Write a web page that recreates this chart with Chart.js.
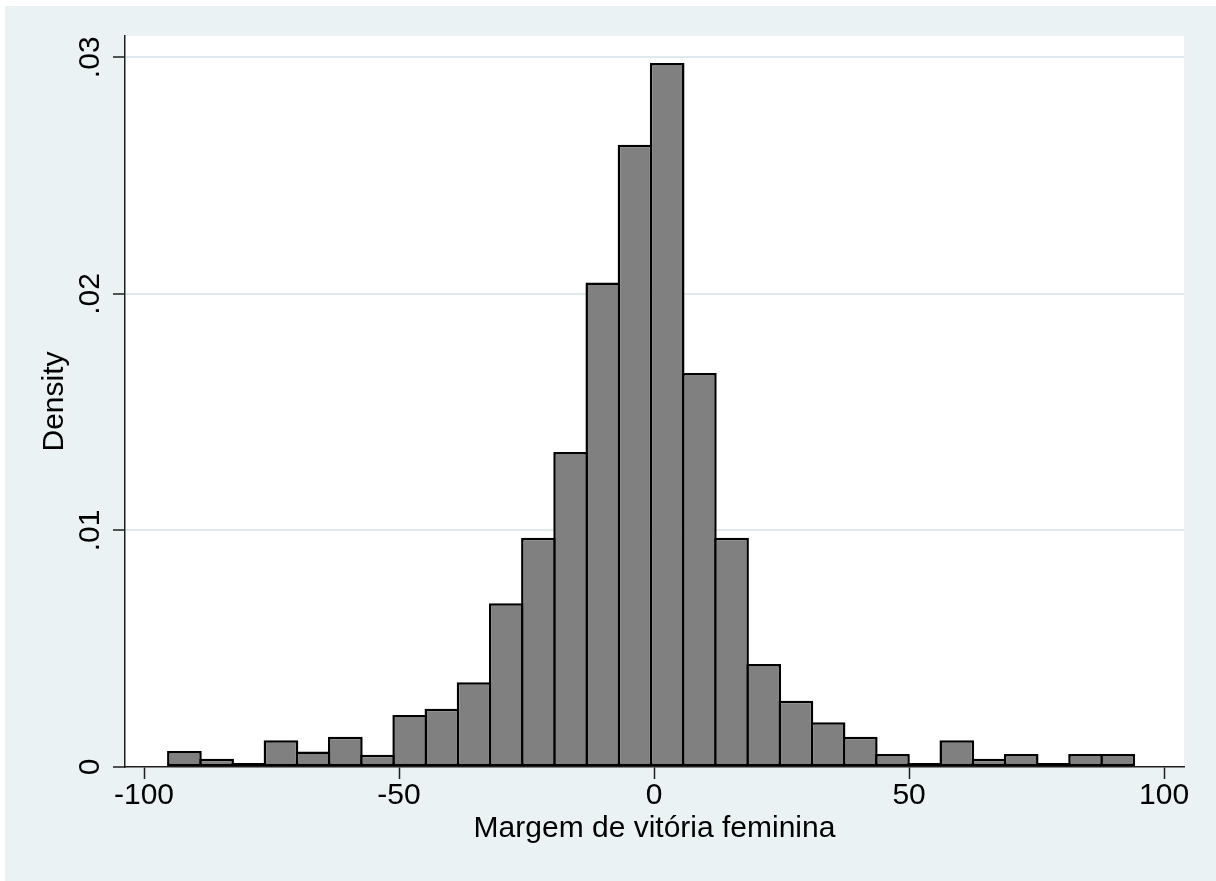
<!DOCTYPE html>
<html>
<head>
<meta charset="utf-8">
<title>Margem de vitória feminina</title>
<script src="https://cdn.jsdelivr.net/npm/chart.js@4/dist/chart.umd.min.js"></script>
<style>
  html, body { margin: 0; padding: 0; background: #ffffff; }
  #wrap { position: absolute; left: 0; top: 0; width: 1216px; height: 881px; }
</style>
</head>
<body>
<div id="wrap"><canvas id="hist" width="1216" height="881"></canvas></div>
<script>
// Histogram bins: centre of each bin (margin, percentage points)
const binCenters = [
  -92.08, -85.77, -79.46, -73.15, -66.84, -60.53, -54.22, -47.91, -41.60, -35.29,
  -28.98, -22.67, -16.36, -10.05,  -3.74,   2.57,   8.88,  15.19,  21.50,  27.81,
   34.12,  40.43,  46.74,  53.05,  59.36,  65.67,  71.98,  78.29,  84.60,  90.91
];

// Density of each bin
const densities = [
  0.00068, 0.00035, 0.00017, 0.00113, 0.00066, 0.00128, 0.00052, 0.00220, 0.00246, 0.00358,
  0.00692, 0.00969, 0.01332, 0.02048, 0.02630, 0.02976, 0.01666, 0.00969, 0.00435, 0.00280,
  0.00189, 0.00128, 0.00055, 0.00017, 0.00113, 0.00035, 0.00055, 0.00017, 0.00055, 0.00055
];

const xTickValues = [-100, -50, 0, 50, 100];
const xTickLabels = ['-100', '-50', '0', '50', '100'];
const yTickValues = [0, 0.01, 0.02, 0.03];
const yTickLabels = ['0', '.01', '.02', '.03'];
const xTitle = 'Margem de vitória feminina';
const yTitle = 'Density';

const FONT = "'Liberation Sans', Arial, Helvetica, sans-serif";
const BG = '#eaf2f3';
const GRID = '#e0eaed';
const AXIS = '#1e1e1e';

// Page and plot-region backgrounds
const backgroundPlugin = {
  id: 'backgroundPlugin',
  beforeDraw(chart) {
    const { ctx, width, height, chartArea } = chart;
    ctx.save();
    ctx.fillStyle = '#ffffff';
    ctx.fillRect(0, 0, width, height);
    ctx.fillStyle = BG;
    ctx.fillRect(5, 6, width - 5, height - 6);
    ctx.fillStyle = '#ffffff';
    ctx.fillRect(chartArea.left, chartArea.top,
                 chartArea.right - chartArea.left, chartArea.bottom - chartArea.top);
    ctx.restore();
  }
};

// Vertical-axis labels are drawn rotated, reading bottom to top
const rotatedYLabels = {
  id: 'rotatedYLabels',
  afterDraw(chart) {
    const { ctx } = chart;
    const y = chart.scales.y;
    ctx.save();
    ctx.font = '30px ' + FONT;
    ctx.fillStyle = '#000000';
    ctx.textAlign = 'center';
    ctx.textBaseline = 'alphabetic';
    yTickValues.forEach((v, i) => {
      ctx.save();
      ctx.translate(y.right - 26.5, y.getPixelForValue(v));
      ctx.rotate(-Math.PI / 2);
      ctx.fillText(yTickLabels[i], 0, 0);
      ctx.restore();
    });
    ctx.restore();
  }
};

new Chart(document.getElementById('hist'), {
  type: 'bar',
  data: {
    datasets: [{
      label: yTitle,
      data: binCenters.map((x, i) => ({ x: x, y: densities[i] })),
      backgroundColor: '#808080',
      borderColor: '#000000',
      borderWidth: 2.5,
      borderSkipped: false,
      barPercentage: 1.078,
      categoryPercentage: 1.0
    }]
  },
  options: {
    responsive: false,
    animation: false,
    devicePixelRatio: 1,
    layout: { padding: { left: 0, top: 36, right: 32, bottom: 0 } },
    plugins: {
      legend: { display: false },
      tooltip: { enabled: false },
      title: { display: false }
    },
    scales: {
      x: {
        type: 'linear',
        offset: false,
        min: -103.73,
        max: 103.9,
        afterBuildTicks(scale) {
          scale.ticks = xTickValues.map(v => ({ value: v }));
        },
        afterFit(scale) { scale.height = 114; },
        ticks: {
          color: '#000000',
          font: { family: FONT, size: 30, lineHeight: 1.2 },
          padding: -1,
          maxRotation: 0,
          minRotation: 0,
          callback(value) {
            const i = xTickValues.indexOf(value);
            return i >= 0 ? xTickLabels[i] : '';
          }
        },
        grid: {
          display: true,
          offset: false,
          drawOnChartArea: false,
          drawTicks: true,
          tickLength: 12,
          tickColor: AXIS,
          tickWidth: 1.5
        },
        border: { display: true, color: AXIS, width: 1.5 },
        title: {
          display: true,
          text: xTitle,
          color: '#000000',
          font: { family: FONT, size: 30, lineHeight: 1.2 },
          padding: { top: 0, bottom: 34.4 }
        }
      },
      y: {
        type: 'linear',
        min: 0,
        max: 0.0309,
        afterBuildTicks(scale) {
          scale.ticks = yTickValues.map(v => ({ value: v }));
        },
        afterFit(scale) { scale.width = 125; },
        ticks: { display: false },
        grid: {
          display: true,
          drawOnChartArea: true,
          drawTicks: true,
          color(ctx) {
            return ctx.tick && ctx.tick.value === 0 ? 'rgba(0,0,0,0)' : GRID;
          },
          lineWidth: 2,
          tickLength: 12,
          tickColor: AXIS,
          tickWidth: 1.5
        },
        border: { display: true, color: AXIS, width: 1.5 },
        title: {
          display: true,
          text: yTitle,
          color: '#000000',
          font: { family: FONT, size: 30, lineHeight: 1.2 },
          padding: { top: 36.6, bottom: 0 }
        }
      }
    }
  },
  plugins: [backgroundPlugin, rotatedYLabels]
});
</script>
</body>
</html>
